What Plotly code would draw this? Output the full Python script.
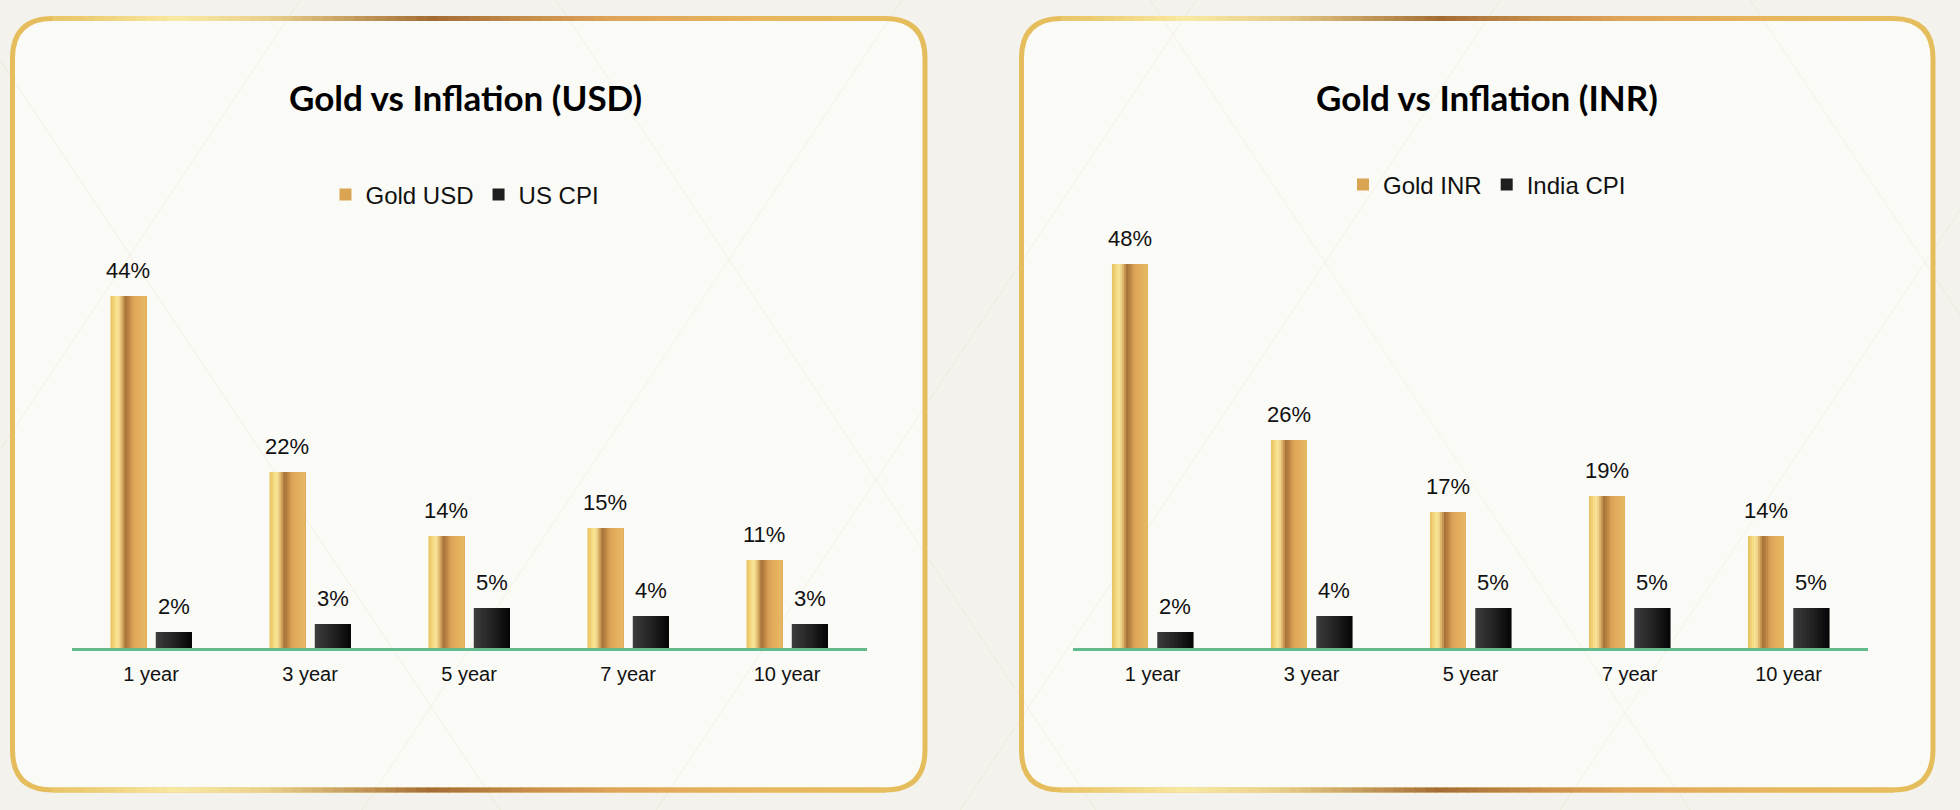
import numpy as np
import plotly.graph_objects as go

# ------------------------------------------------------------
# Données
# ------------------------------------------------------------
periods = ["1 year", "3 year", "5 year", "7 year", "10 year"]

gold_usd = [44, 22, 14, 15, 11]
us_cpi = [2, 3, 5, 4, 3]

gold_inr = [48, 26, 17, 19, 14]
india_cpi = [2, 4, 5, 5, 5]

titles = ["Gold vs Inflation (USD)", "Gold vs Inflation (INR)"]
names_left = ["Gold USD", "US CPI"]
names_right = ["Gold INR", "India CPI"]

W, H = 1960, 810
PAPER = "#f3f2ec"

# ------------------------------------------------------------
# Couleurs / dégradés
# ------------------------------------------------------------
GOLD_STOPS = [(0.00, "#e7bf60"), (0.12, "#f4d981"), (0.22, "#f9e79c"),
              (0.32, "#dcb066"), (0.42, "#a8733a"), (0.52, "#bf8746"),
              (0.62, "#dba258"), (0.78, "#e3ae5d"), (1.00, "#e6b862")]
CPI_STOPS = [(0.0, "#3d3d3d"), (0.5, "#242424"), (1.0, "#050505")]
BORDER_STOPS = [(0.00, "#e6bd5c"), (0.08, "#edcd72"), (0.18, "#f9e9a2"),
                (0.28, "#ead08a"), (0.46, "#a36c33"), (0.56, "#c58d4a"),
                (0.66, "#e0a458"), (0.82, "#e6b65d"), (1.00, "#e8c060")]


def hex2rgb(h):
    h = h.lstrip("#")
    return [int(h[i:i + 2], 16) for i in (0, 2, 4)]


def grad(stops, t):
    for (p0, c0), (p1, c1) in zip(stops[:-1], stops[1:]):
        if p0 <= t <= p1:
            f = (t - p0) / (p1 - p0) if p1 > p0 else 0
            a, b = hex2rgb(c0), hex2rgb(c1)
            r = [round(a[i] + (b[i] - a[i]) * f) for i in range(3)]
            return "rgb(%d,%d,%d)" % tuple(r)
    return stops[-1][1]


def px(x, y):
    # pixels écran -> coordonnées papier
    return x / W, 1 - y / H


def rounded_path(x0, x1, y0, y1, r):
    pts = [("M", [(x0 + r, y0)]), ("L", [(x1 - r, y0)]), ("Q", [(x1, y0), (x1, y0 + r)]),
           ("L", [(x1, y1 - r)]), ("Q", [(x1, y1), (x1 - r, y1)]),
           ("L", [(x0 + r, y1)]), ("Q", [(x0, y1), (x0, y1 - r)]),
           ("L", [(x0, y0 + r)]), ("Q", [(x0, y0), (x0 + r, y0)])]
    out = []
    for cmd, pp in pts:
        out.append(cmd + " ".join("%.5f,%.5f" % px(a, b) for a, b in pp))
    return " ".join(out) + " Z"


# géométrie des barres (unités de catégorie)
BAR_W = 0.225
GOLD_OFF = -0.255
CPI_OFF = 0.03
N_STRIPES = 18

fig = go.Figure()
xs = np.arange(len(periods))


def add_series(values, offset, stops, name, axis_id, legend_id, legend_color):
    # barre en bandes verticales superposées pour imiter le dégradé
    for k in range(N_STRIPES):
        start = k / N_STRIPES
        fig.add_trace(go.Bar(
            x=xs, y=values,
            offset=offset + start * BAR_W, width=BAR_W * (1 - start),
            marker=dict(color=grad(stops, (k + 0.5) / N_STRIPES), line_width=0),
            xaxis="x" + axis_id, yaxis="y" + axis_id,
            showlegend=False, hoverinfo="skip",
        ))
    # entrée de légende seule
    fig.add_trace(go.Bar(
        x=[None], y=[None], name=name,
        marker=dict(color=legend_color, line_width=0),
        xaxis="x" + axis_id, yaxis="y" + axis_id,
        legend=legend_id, showlegend=True,
    ))
    # étiquettes de valeurs
    for xi, v in zip(xs, values):
        fig.add_annotation(
            x=xi + offset + BAR_W / 2, y=v, xref="x" + axis_id, yref="y" + axis_id,
            text=f"{v}%", showarrow=False, yanchor="bottom", yshift=11,
            font=dict(family="Liberation Sans, Arial", size=22, color="#111"),
        )


add_series(gold_usd, GOLD_OFF, GOLD_STOPS, names_left[0], "", "legend", "#d9a553")
add_series(us_cpi, CPI_OFF, CPI_STOPS, names_left[1], "", "legend", "#1e1e1e")
add_series(gold_inr, GOLD_OFF, GOLD_STOPS, names_right[0], "2", "legend2", "#d9a553")
add_series(india_cpi, CPI_OFF, CPI_STOPS, names_right[1], "2", "legend2", "#1e1e1e")

# ------------------------------------------------------------
# Décor : fond, lignes diagonales discrètes, cadres arrondis
# ------------------------------------------------------------
shapes = []
panels = [(12.5, 925), (1021.5, 1933)]
top_y, bot_y, rad = 18.5, 790, 40

for x0, x1 in panels:
    shapes.append(dict(type="path", path=rounded_path(x0, x1, top_y, bot_y, rad),
                       xref="paper", yref="paper", layer="below",
                       fillcolor="#fafaf6", line_width=0))

# lignes diagonales très pâles
for a in [-40, 556, 1150, 1750]:
    (xa, ya), (xb, yb) = px(a, 0), px(a + H / 1.5, H)
    shapes.append(dict(type="line", xref="paper", yref="paper", x0=xa, y0=ya, x1=xb, y1=yb,
                       layer="below", line=dict(color="rgba(215,195,130,0.15)", width=1)))
for b in [300, 902, 1196, 1500, 2100]:
    (xa, ya), (xb, yb) = px(b, 0), px(b - H / 1.5, H)
    shapes.append(dict(type="line", xref="paper", yref="paper", x0=xa, y0=ya, x1=xb, y1=yb,
                       layer="below", line=dict(color="rgba(215,195,130,0.15)", width=1)))

# cadres : contour doré + dégradé sur les bords haut et bas
for x0, x1 in panels:
    shapes.append(dict(type="path", path=rounded_path(x0, x1, top_y, bot_y, rad),
                       xref="paper", yref="paper", layer="above",
                       line=dict(color="#e6bd5c", width=5)))
    n_seg = 80
    seg = (x1 - x0 - 2 * rad) / n_seg
    for k in range(n_seg):
        sx0 = x0 + rad + k * seg
        sx1 = sx0 + seg + 1
        col = grad(BORDER_STOPS, (sx0 + seg / 2 - x0) / (x1 - x0))
        for yy in (top_y, bot_y):
            (ax, ay), (bx, by) = px(sx0, yy), px(sx1, yy)
            shapes.append(dict(type="line", xref="paper", yref="paper",
                               x0=ax, y0=ay, x1=bx, y1=by, layer="above",
                               line=dict(color=col, width=5)))

# titres
for t, cx in zip(titles, [465, 1487]):
    xx, yy = px(cx, 97)
    fig.add_annotation(x=xx, y=yy, xref="paper", yref="paper", text=f"<b>{t}</b>",
                       showarrow=False, xanchor="center", yanchor="middle",
                       font=dict(family="Lato, Open Sans, sans-serif", size=35, color="#000"))

# ------------------------------------------------------------
# Axes
# ------------------------------------------------------------
y_bottom = 1 - 648 / H
y_top = y_bottom + 440 / H

xaxis_common = dict(
    range=[-0.5, len(periods) - 0.5], tickvals=list(xs), ticktext=periods,
    showgrid=False, zeroline=False, showline=True, linecolor="#63ba8d", linewidth=2.5,
    ticks="", ticklabelstandoff=6, fixedrange=True,
    tickfont=dict(family="Liberation Sans, Arial", size=20, color="#111"),
)
yaxis_common = dict(range=[0, 55], visible=False, showgrid=False, zeroline=False, fixedrange=True)

lx, ly = px(465, 195)
rx, ry = px(1487, 185)
legend_common = dict(orientation="h", xanchor="center", yanchor="middle",
                     bgcolor="rgba(0,0,0,0)", itemclick=False, itemdoubleclick=False,
                     font=dict(family="Liberation Sans, Arial", size=24, color="#111"))

fig.update_layout(
    width=W, height=H,
    margin=dict(l=0, r=0, t=0, b=0),
    paper_bgcolor=PAPER, plot_bgcolor="rgba(0,0,0,0)",
    barmode="overlay",
    xaxis=dict(domain=[71.5 / W, 866.5 / W], anchor="y", **xaxis_common),
    yaxis=dict(domain=[y_bottom, y_top], anchor="x", **yaxis_common),
    xaxis2=dict(domain=[1073 / W, 1868 / W], anchor="y2", **xaxis_common),
    yaxis2=dict(domain=[y_bottom, y_top], anchor="x2", **yaxis_common),
    legend=dict(x=lx, y=ly, **legend_common),
    legend2=dict(x=rx, y=ry, **legend_common),
    shapes=shapes,
    showlegend=True,
)

# la page html a une marge de 8px par défaut : on la retire
fig.write_html(
    "out.html",
    config={"displayModeBar": False},
    post_script=f"document.body.style.margin='0';document.body.style.background='{PAPER}';",
)
